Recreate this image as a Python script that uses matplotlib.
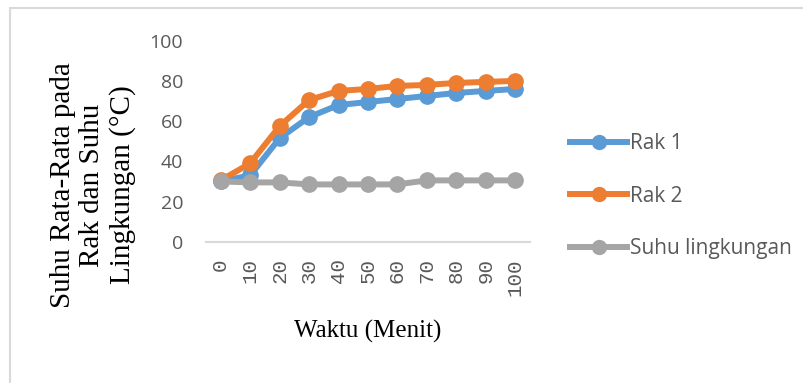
import matplotlib.pyplot as plt
from matplotlib.lines import Line2D
from matplotlib.patches import Rectangle

# waktu pengukuran (menit) dan suhu rata-rata (°C)
waktu = ["0", "10", "20", "30", "40", "50", "60", "70", "80", "90", "100"]
rak1 = [30, 33, 51.5, 62, 68, 69.5, 71, 72.5, 74, 75, 76]
rak2 = [30.5, 39, 57.5, 70.5, 75, 76, 77.5, 78, 79, 79.5, 80]
suhu_lingkungan = [30, 29.5, 29.5, 28.5, 28.5, 28.5, 28.5, 30.5, 30.5, 30.5, 30.5]

series = [("Rak 1", rak1, "#5B9BD5"),
          ("Rak 2", rak2, "#ED7D31"),
          ("Suhu lingkungan", suhu_lingkungan, "#A5A5A5")]

W, H = 804, 383
fig = plt.figure(figsize=(W / 100, H / 100), dpi=100)
fig.patches.append(Rectangle((10 / W, -0.1), 1.1, 1 - 8 / H + 0.1,
                             transform=fig.transFigure, fill=False,
                             edgecolor="#D9D9D9", linewidth=1.5))

ax = fig.add_axes([206 / W, 1 - 241.7 / H, 324 / W, 201 / H])
x = range(len(waktu))
for name, vals, col in series:
    ax.plot(x, vals, color=col, linewidth=4.3, marker="o", markersize=11,
            solid_capstyle="round", label=name)

ax.set_xlim(-0.5, len(waktu) - 0.5)
ax.set_ylim(0, 100)
ax.set_yticks(range(0, 101, 20))
ax.set_xticks(list(x))
ax.set_xticklabels(waktu, rotation=90, family="Liberation Mono",
                   fontsize=15, color="#595959")
for lbl in ax.get_yticklabels():
    lbl.set_family("Open Sans")
    lbl.set_fontsize(14)
    lbl.set_color("#595959")

for side in ["top", "right", "left"]:
    ax.spines[side].set_visible(False)
ax.spines["bottom"].set_color("#D9D9D9")
ax.spines["bottom"].set_linewidth(1.5)
ax.tick_params(axis="both", length=0)
ax.tick_params(axis="y", pad=16.5)
ax.tick_params(axis="x", pad=12)

# axis titles
fig.text(368 / W, 1 - 331 / H, "Waktu (Menit)", family="Liberation Serif",
         fontsize=18, ha="center", va="center")
fig.text(93 / W, 1 - 185 / H, "Suhu Rata-Rata pada\nRak dan Suhu\nLingkungan (°C)",
         family="Liberation Serif", fontsize=21, rotation=90, ha="center",
         va="center", multialignment="center", linespacing=1.16)

handles = [Line2D([], [], color=c, linewidth=4.3, marker="o", markersize=10)
           for _, _, c in series]
leg = fig.legend(handles, [s[0] for s in series], loc="center left",
                 bbox_to_anchor=(570 / W, 1 - 196 / H), frameon=False,
                 borderaxespad=0, borderpad=0,
                 handlelength=2.75, handletextpad=0.12, labelspacing=1.52,
                 prop={"family": "Open Sans", "size": 15})
for t in leg.get_texts():
    t.set_color("#595959")

fig.savefig("out.png", dpi=100)
